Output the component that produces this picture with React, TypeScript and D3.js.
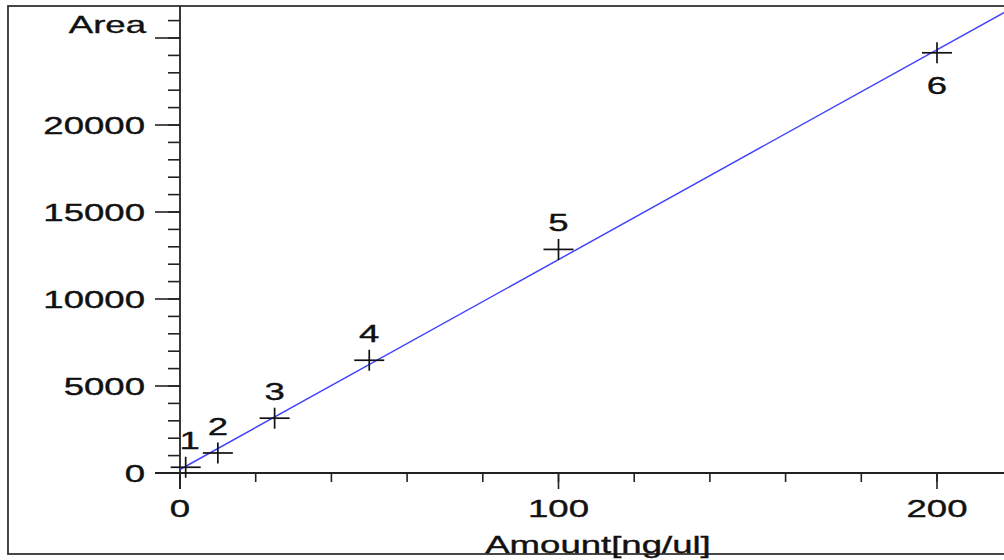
import React from "react";
import * as d3 from "d3";

const pointIds = ["1", "2", "3", "4", "5", "6"];
const amounts = [1.5, 10, 25, 50, 100, 200];
const areas = [330, 1150, 3150, 6480, 12850, 24150];
const fitAmounts = [0, 218];
const fitAreas = [200, 26500];
const xMajorTicks = [0, 100, 200];
const xMinorStep = 20;
const yMajorTicks = [0, 5000, 10000, 15000, 20000, 25000];
const yLabelTicks = [0, 5000, 10000, 15000, 20000];
const yMinorStep = 1000;
const yAxisTitle = "Area";
const xAxisTitle = "Amount[ng/ul]";

const W = 1004;
const H = 560;
const SX = 1.59;
const FONT = "'Liberation Sans', Arial, sans-serif";
const FS = 23;

export default function App() {
  const x = d3.scaleLinear().domain([0, 100]).range([180, 558.5]);
  const y = d3.scaleLinear().domain([0, 20000]).range([473, 125]);

  const xMinor = d3.range(0, 220 + 0.001, xMinorStep).filter((v) => x(v) <= W);
  const yMinor = d3.range(0, 27000, yMinorStep).filter((v) => y(v) >= 6);

  const line = d3
    .line<number>()
    .x((d) => x(d))
    .y((_, i) => y(fitAreas[i]));

  const T = (
    px: number,
    py: number,
    s: string,
    anchor: "start" | "middle" | "end",
    key?: string
  ) => (
    <text
      key={key}
      transform={`translate(${px},${py}) scale(${SX},1)`}
      textAnchor={anchor}
      fontFamily={FONT}
      fontSize={FS}
      fill="#111"
      stroke="#111"
      strokeWidth={0.35}
    >
      {s}
    </text>
  );

  const axisColor = "#222";

  return (
    <svg
      width={W}
      height={H}
      style={{ position: "absolute", left: 0, top: 0, background: "#fff" }}
    >
      {/* frame */}
      <rect x={8} y={6} width={1010} height={548} fill="none" stroke="#333" strokeWidth={1.8} />

      {/* y axis */}
      <line x1={180} x2={180} y1={6} y2={489} stroke={axisColor} strokeWidth={1.8} />
      {yMinor.map((v) => (
        <line key={"ym" + v} x1={168} x2={180} y1={y(v)} y2={y(v)} stroke={axisColor} strokeWidth={1.6} />
      ))}
      {yMajorTicks.map((v) => (
        <line key={"yM" + v} x1={155} x2={180} y1={y(v)} y2={y(v)} stroke={axisColor} strokeWidth={1.6} />
      ))}
      {yLabelTicks.map((v) => T(145, y(v) + 8.5, String(v), "end", "yl" + v))}
      {T(146, 33, yAxisTitle, "end")}

      {/* x axis */}
      <line x1={155} x2={W} y1={473} y2={473} stroke={axisColor} strokeWidth={1.8} />
      {xMinor.map((v) => (
        <line key={"xm" + v} x1={x(v)} x2={x(v)} y1={473} y2={482} stroke={axisColor} strokeWidth={1.6} />
      ))}
      {xMajorTicks.map((v) => (
        <line key={"xM" + v} x1={x(v)} x2={x(v)} y1={473} y2={489} stroke={axisColor} strokeWidth={1.6} />
      ))}
      {xMajorTicks.map((v) => T(x(v), 517, String(v), "middle", "xl" + v))}
      {T(598, 553, xAxisTitle, "middle")}

      {/* fit line */}
      <path d={line(fitAmounts) || ""} fill="none" stroke="#4444ff" strokeWidth={1.5} />

      {/* points */}
      {amounts.map((a, i) => {
        const px = x(a);
        const py = y(areas[i]);
        const below = i === amounts.length - 1;
        return (
          <g key={"p" + i}>
            <line x1={px - 15} x2={px + 15} y1={py} y2={py} stroke="#111" strokeWidth={1.7} />
            <line x1={px} x2={px} y1={py - 10.5} y2={py + 10.5} stroke="#111" strokeWidth={1.7} />
            {T(px + (i === 0 ? 4 : 0), below ? py + 41 : py - 18, pointIds[i], "middle")}
          </g>
        );
      })}
    </svg>
  );
}
